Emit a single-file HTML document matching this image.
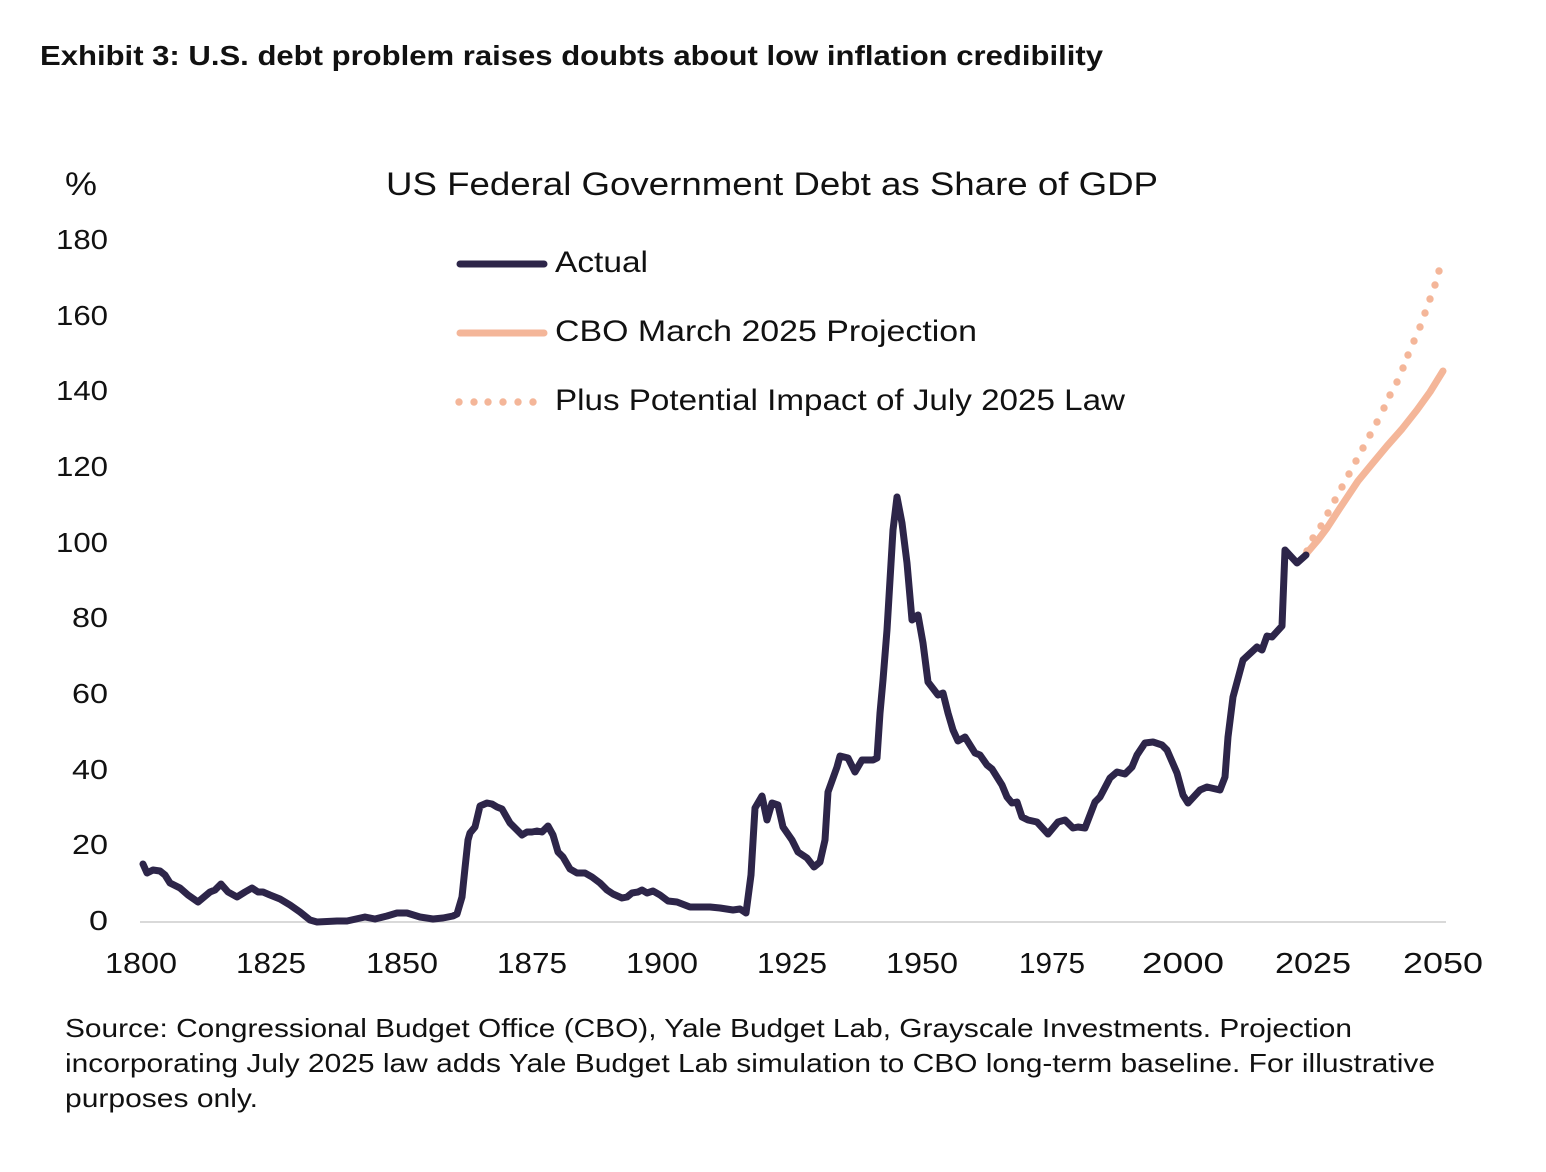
<!DOCTYPE html>
<html>
<head>
<meta charset="utf-8">
<style>
  html, body { margin: 0; padding: 0; background: #ffffff; }
  svg { display: block; }
  text { font-family: "Liberation Sans", Arial, sans-serif; fill: #111111; }
</style>
</head>
<body>
<svg width="1546" height="1172" viewBox="0 0 1546 1172" xmlns="http://www.w3.org/2000/svg">
  <rect x="0" y="0" width="1546" height="1172" fill="#ffffff"/>

  <!-- Exhibit title -->
  <text x="40" y="65" font-size="28" font-weight="bold" fill="#000" textLength="1063" lengthAdjust="spacingAndGlyphs">Exhibit 3: U.S. debt problem raises doubts about low inflation credibility</text>

  <!-- Chart title and unit -->
  <text x="65" y="195" font-size="32" textLength="32" lengthAdjust="spacingAndGlyphs">%</text>
  <text x="386" y="195" font-size="32" textLength="772" lengthAdjust="spacingAndGlyphs">US Federal Government Debt as Share of GDP</text>

  <!-- Y tick labels -->
  <g font-size="28" text-anchor="end">
    <text x="108" y="249" textLength="52" lengthAdjust="spacingAndGlyphs">180</text>
    <text x="108" y="325" textLength="52" lengthAdjust="spacingAndGlyphs">160</text>
    <text x="108" y="400" textLength="52" lengthAdjust="spacingAndGlyphs">140</text>
    <text x="108" y="476" textLength="52" lengthAdjust="spacingAndGlyphs">120</text>
    <text x="108" y="552" textLength="52" lengthAdjust="spacingAndGlyphs">100</text>
    <text x="108" y="627" textLength="36" lengthAdjust="spacingAndGlyphs">80</text>
    <text x="108" y="703" textLength="36" lengthAdjust="spacingAndGlyphs">60</text>
    <text x="108" y="779" textLength="36" lengthAdjust="spacingAndGlyphs">40</text>
    <text x="108" y="854" textLength="36" lengthAdjust="spacingAndGlyphs">20</text>
    <text x="108" y="930" textLength="19" lengthAdjust="spacingAndGlyphs">0</text>
  </g>

  <!-- X axis line -->
  <line x1="140" y1="922" x2="1446" y2="922" stroke="#d9d9d9" stroke-width="2"/>

  <!-- X tick labels -->
  <g font-size="29" text-anchor="middle">
    <text x="141" y="973" textLength="72" lengthAdjust="spacingAndGlyphs">1800</text>
    <text x="271" y="973" textLength="70" lengthAdjust="spacingAndGlyphs">1825</text>
    <text x="402" y="973" textLength="72" lengthAdjust="spacingAndGlyphs">1850</text>
    <text x="532" y="973" textLength="70" lengthAdjust="spacingAndGlyphs">1875</text>
    <text x="662" y="973" textLength="72" lengthAdjust="spacingAndGlyphs">1900</text>
    <text x="792" y="973" textLength="70" lengthAdjust="spacingAndGlyphs">1925</text>
    <text x="922" y="973" textLength="72" lengthAdjust="spacingAndGlyphs">1950</text>
    <text x="1052" y="973" textLength="66" lengthAdjust="spacingAndGlyphs">1975</text>
    <text x="1183" y="973" textLength="82" lengthAdjust="spacingAndGlyphs">2000</text>
    <text x="1313" y="973" textLength="76" lengthAdjust="spacingAndGlyphs">2025</text>
    <text x="1443" y="973" textLength="80" lengthAdjust="spacingAndGlyphs">2050</text>
  </g>

  <!-- Dotted projection -->
  <g fill="#f4b699">
    <circle cx="1307" cy="551" r="3.7"/>
    <circle cx="1313" cy="538" r="3.7"/>
    <circle cx="1321" cy="526" r="3.7"/>
    <circle cx="1328" cy="513" r="3.7"/>
    <circle cx="1335" cy="500" r="3.7"/>
    <circle cx="1342" cy="487" r="3.7"/>
    <circle cx="1349" cy="474" r="3.7"/>
    <circle cx="1356" cy="461" r="3.7"/>
    <circle cx="1363" cy="448" r="3.7"/>
    <circle cx="1370" cy="435" r="3.7"/>
    <circle cx="1377" cy="422" r="3.7"/>
    <circle cx="1384" cy="408" r="3.7"/>
    <circle cx="1390" cy="395" r="3.7"/>
    <circle cx="1397" cy="382" r="3.7"/>
    <circle cx="1403" cy="368" r="3.7"/>
    <circle cx="1408" cy="355" r="3.7"/>
    <circle cx="1414" cy="341" r="3.7"/>
    <circle cx="1420" cy="327" r="3.7"/>
    <circle cx="1425" cy="313" r="3.7"/>
    <circle cx="1430" cy="299" r="3.7"/>
    <circle cx="1435" cy="285" r="3.7"/>
    <circle cx="1439" cy="271" r="3.7"/>
  </g>

  <!-- CBO solid projection -->
  <polyline fill="none" stroke="#f4b699" stroke-width="7" stroke-linecap="round" stroke-linejoin="round"
    points="1306,554 1318,540 1327,528 1340,508 1358,481 1372,464 1387,446 1402,429 1417,410 1430,392 1443,371"/>

  <!-- Actual -->
  <polyline fill="none" stroke="#2d2549" stroke-width="7" stroke-linecap="round" stroke-linejoin="round"
    points="143,864 147,873 153,870 160,871 165,875 170,883 180,888 188,895 198,902 210,892 215,890 221,884 228,892 237,897 245,892 252,888 258,892 263,892 270,895 280,899 290,905 300,912 310,920 317,922 337,921 347,921 365,917 375,919 387,916 397,913 407,913 420,917 433,919 443,918 453,916 457,914 462,897 465,868 468,840 470,833 475,827 480,806 487,803 492,804 497,807 502,809 510,823 517,830 522,835 527,832 532,832 537,831 542,832 548,826 553,835 558,852 563,857 570,869 577,873 585,873 592,877 600,883 607,890 613,894 622,898 627,897 632,893 638,892 642,890 647,893 653,891 660,895 668,901 677,902 690,907 703,907 710,907 720,908 733,910 740,909 746,913 751,875 755,808 762,796 767,820 772,803 778,805 783,827 792,840 798,852 807,858 814,867 820,862 825,840 828,792 837,767 840,756 848,758 855,772 862,760 873,760 877,758 880,713 883,680 887,630 890,580 893,530 897,497 902,523 907,563 912,620 918,615 923,643 928,682 938,695 943,693 948,713 953,730 958,741 965,737 975,753 980,755 987,765 992,769 1002,785 1007,797 1012,803 1017,802 1022,817 1028,820 1037,822 1048,834 1058,822 1065,820 1073,828 1078,827 1085,828 1095,802 1100,797 1110,778 1117,772 1125,774 1132,767 1137,755 1145,743 1153,742 1162,745 1167,750 1177,773 1183,795 1188,803 1200,790 1207,787 1220,790 1225,777 1228,737 1233,697 1243,660 1257,647 1262,650 1267,636 1272,637 1282,626 1285,550 1297,563 1306,555"/>

  <!-- Legend -->
  <line x1="460" y1="264" x2="544" y2="264" stroke="#2d2549" stroke-width="7" stroke-linecap="round"/>
  <line x1="460" y1="333" x2="544" y2="333" stroke="#f4b699" stroke-width="7" stroke-linecap="round"/>
  <g fill="#f4b699">
    <circle cx="459" cy="402" r="3.7"/>
    <circle cx="474" cy="402" r="3.7"/>
    <circle cx="488" cy="402" r="3.7"/>
    <circle cx="503" cy="402" r="3.7"/>
    <circle cx="518" cy="402" r="3.7"/>
    <circle cx="533" cy="402" r="3.7"/>
  </g>
  <g font-size="30">
    <text x="555" y="272" textLength="93" lengthAdjust="spacingAndGlyphs">Actual</text>
    <text x="555" y="341" textLength="422" lengthAdjust="spacingAndGlyphs">CBO March 2025 Projection</text>
    <text x="555" y="410" textLength="570" lengthAdjust="spacingAndGlyphs">Plus Potential Impact of July 2025 Law</text>
  </g>

  <!-- Source note -->
  <g font-size="26">
    <text x="65" y="1037" textLength="1287" lengthAdjust="spacingAndGlyphs">Source: Congressional Budget Office (CBO), Yale Budget Lab, Grayscale Investments. Projection</text>
    <text x="65" y="1072" textLength="1370" lengthAdjust="spacingAndGlyphs">incorporating July 2025 law adds Yale Budget Lab simulation to CBO long-term baseline. For illustrative</text>
    <text x="65" y="1107" textLength="193" lengthAdjust="spacingAndGlyphs">purposes only.</text>
  </g>
</svg>
</body>
</html>
